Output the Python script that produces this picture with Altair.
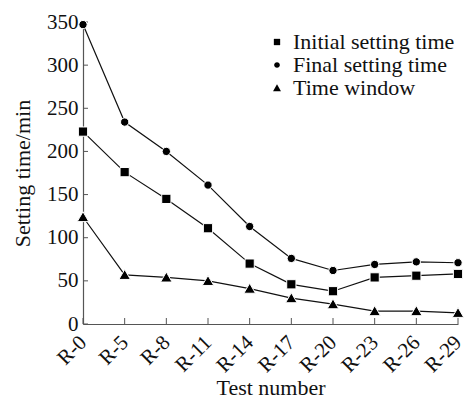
import altair as alt
import pandas as pd

tests = ["R-0", "R-5", "R-8", "R-11", "R-14", "R-17", "R-20", "R-23", "R-26", "R-29"]
initial = [223, 176, 145, 111, 70, 46, 38, 54, 56, 58]
final = [347, 234, 200, 161, 113, 76, 62, 69, 72, 71]
window = [124, 57, 54, 50, 41, 30, 23, 15, 15, 13]
series = ["Initial setting time", "Final setting time", "Time window"]
y_ticks = [0, 50, 100, 150, 200, 250, 300, 350]

rows = []
for name, vals in zip(series, [initial, final, window]):
    for t, v in zip(tests, vals):
        rows.append({"test": t, "value": v, "series": name})
df = pd.DataFrame(rows)

FONT = "Liberation Serif, Times New Roman, Times, serif"
SQUARE = "M-1,-1H1V1H-1Z"
CIRCLE = "M-0.9,0A0.9,0.9 0 1,0 0.9,0A0.9,0.9 0 1,0 -0.9,0Z"
TRIANGLE = "M0,-1.15L1.25,1L-1.25,1Z"

x_enc = alt.X("test:N", sort=tests, scale=alt.Scale(type="point", padding=0),
              axis=alt.Axis(title="Test number", labelAngle=-45, labelAlign="right",
                            labelBaseline="middle", labelPadding=15, ticks=False,
                            labelFontSize=21, titleFontSize=22, titlePadding=2,
                            titleFontWeight="normal",
                            domainColor="#555", labelColor="#111", titleColor="#111",
                            labelFont=FONT, titleFont=FONT, grid=False))
y_enc = alt.Y("value:Q", scale=alt.Scale(domain=[0, 350], nice=False),
              axis=alt.Axis(title="Setting time/min", values=y_ticks, ticks=False,
                            labelPadding=5, labelFontSize=21, titleFontSize=22,
                            titlePadding=12, titleFontWeight="normal",
                            domainColor="#555", labelColor="#111",
                            titleColor="#111", labelFont=FONT, titleFont=FONT, grid=False))

base = alt.Chart(df)

lines = base.mark_line(color="#111", strokeWidth=1.2).encode(
    x=x_enc, y=y_enc, detail="series:N")

points = base.mark_point(filled=True, opacity=1, color="black",
                         stroke="white", strokeWidth=1, size=85).encode(
    x=alt.X("test:N", sort=tests),
    y="value:Q",
    shape=alt.Shape("series:N", sort=series,
                    scale=alt.Scale(domain=series, range=[SQUARE, CIRCLE, TRIANGLE]),
                    legend=alt.Legend(title=None, orient="none", legendX=183, legendY=9,
                                      padding=0, labelFont=FONT, labelFontSize=22,
                                      labelColor="#111", symbolFillColor="black",
                                      symbolStrokeColor="black", symbolStrokeWidth=0,
                                      symbolSize=40, rowPadding=1, labelOffset=5,
                                      labelLimit=300)),
)

ytick_df = pd.DataFrame({"v": y_ticks})
yticks = alt.Chart(ytick_df).mark_rule(color="#555", strokeWidth=1).encode(
    y="v:Q", x=alt.value(0), x2=alt.value(5))

xtick_df = pd.DataFrame({"test": tests})
xticks = alt.Chart(xtick_df).mark_rule(color="#555", strokeWidth=1).encode(
    x=alt.X("test:N", sort=tests), y=alt.value(302), y2=alt.value(296))

chart = alt.layer(lines, yticks, xticks, points).properties(
    width=375, height=302,
    autosize=alt.AutoSizeParams(type="none"),
    padding={"left": 75, "top": 14, "right": 8, "bottom": 83},
).configure_view(stroke=None).configure_axis(domainWidth=1.2)

chart.save("out.html", embed_options={"renderer": "svg", "actions": False})
